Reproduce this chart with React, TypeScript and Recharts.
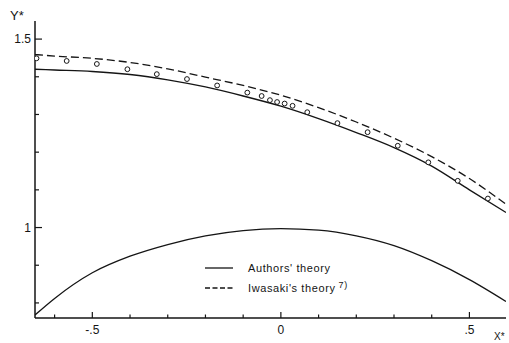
import { ComposedChart, Line, Scatter, XAxis, YAxis, Legend } from 'recharts';

// axis ticks
const xTicks = [-0.6, -0.5, -0.4, -0.3, -0.2, -0.1, 0, 0.1, 0.2, 0.3, 0.4, 0.5];
const xMajor = [-0.5, 0, 0.5];
const xTickLabels = ['-.5', '0', '.5'];
const yTicks = [0.8, 0.9, 1.0, 1.1, 1.2, 1.3, 1.4, 1.5];
const yMajor = [1, 1.5];
const yTickLabels = ['1', '1.5'];

// curves
const curveX = [-0.652, -0.6, -0.5, -0.4, -0.3, -0.2, -0.1, 0, 0.1, 0.2, 0.3, 0.4, 0.5, 0.597];
const authorsUpper = [1.42, 1.418, 1.414, 1.406, 1.392, 1.373, 1.349, 1.322, 1.289, 1.252, 1.212, 1.163, 1.1, 1.04];
const iwasakiUpper = [1.459, 1.455, 1.449, 1.438, 1.421, 1.399, 1.377, 1.351, 1.318, 1.28, 1.237, 1.188, 1.13, 1.062];
const authorsLower = [0.768, 0.812, 0.88, 0.924, 0.955, 0.978, 0.992, 0.997, 0.993, 0.978, 0.952, 0.912, 0.862, 0.804];

// measured points
const pointX = [-0.648, -0.568, -0.488, -0.407, -0.329, -0.249, -0.169, -0.089, -0.051, -0.029, -0.01, 0.01, 0.031, 0.07, 0.15, 0.23, 0.31, 0.391, 0.469, 0.549];
const pointY = [1.449, 1.442, 1.434, 1.42, 1.407, 1.394, 1.377, 1.358, 1.349, 1.338, 1.333, 1.329, 1.323, 1.306, 1.277, 1.253, 1.217, 1.173, 1.124, 1.077];

const upperData = curveX.map((x, i) => ({ x, a: authorsUpper[i], b: iwasakiUpper[i] }));
const lowerData = curveX.map((x, i) => ({ x, a: authorsLower[i] }));
const points = pointX.map((x, i) => ({ x, y: pointY[i] }));

const INK = '#151515';
const FONT = '"Liberation Sans", Arial, sans-serif';

const majorIndex = (list: number[], v: number) => list.findIndex((m) => Math.abs(m - v) < 1e-6);

const BottomTick = (props: any) => {
    const { x, y, payload } = props;
    const k = majorIndex(xMajor, payload.value);
    const base = y - 8;
    return (
        <g>
            <line x1={x} y1={base} x2={x} y2={base - (k >= 0 ? 6 : 3.5)} stroke={INK} strokeWidth={1.2} />
            {k >= 0 && (
                <text x={x} y={y + 8} textAnchor="middle" fontSize={12} fill={INK} fontFamily={FONT}>
                    {xTickLabels[k]}
                </text>
            )}
        </g>
    );
};

const TopTick = (props: any) => {
    const { x, y, payload } = props;
    const k = majorIndex(xMajor, payload.value);
    return <line x1={x} y1={y} x2={x} y2={y + (k >= 0 ? 5 : 3.5)} stroke={INK} strokeWidth={1.2} />;
};

const LeftTick = (props: any) => {
    const { x, y, payload } = props;
    const k = majorIndex(yMajor, payload.value);
    const base = x + 4;
    return (
        <g>
            <line x1={base} y1={y} x2={base + (k >= 0 ? 7 : 4)} y2={y} stroke={INK} strokeWidth={1.2} />
            {k >= 0 && (
                <text x={x} y={y} dy="0.36em" textAnchor="end" fontSize={12} fill={INK} fontFamily={FONT}>
                    {yTickLabels[k]}
                </text>
            )}
        </g>
    );
};

const RightTick = (props: any) => {
    const { x, y } = props;
    return <line x1={x} y1={y} x2={x - 4} y2={y} stroke={INK} strokeWidth={1.2} />;
};

const LegendBox = () => (
    <svg width={180} height={40} style={{ display: 'block' }}>
        <line x1={5} y1={10} x2={33} y2={10} stroke={INK} strokeWidth={1.3} />
        <text x={48} y={14} fontSize={11} fill={INK} fontFamily={FONT} letterSpacing={0.6}>
            Authors' theory
        </text>
        <line x1={5} y1={30} x2={33} y2={30} stroke={INK} strokeWidth={1.3} strokeDasharray="5 2.5" />
        <text x={48} y={34} fontSize={11} fill={INK} fontFamily={FONT} letterSpacing={0.6}>
            Iwasaki's theory
            <tspan dy={-4} fontSize={9}> 7)</tspan>
        </text>
    </svg>
);

const Circle = (props: any) => {
    const { cx, cy } = props;
    return <circle cx={cx} cy={cy} r={2.4} fill="#fff" stroke={INK} strokeWidth={1} />;
};

export default function App() {
    return (
        <div style={{ position: 'absolute', left: 0, top: 0, width: 509, height: 343, background: '#fff', fontFamily: FONT }}>
            <ComposedChart width={509} height={343} margin={{ top: 21, right: 3, left: 0, bottom: 0 }}>
                <XAxis
                    xAxisId="b"
                    type="number"
                    dataKey="x"
                    domain={[-0.652, 0.597]}
                    allowDataOverflow
                    ticks={xTicks}
                    interval={0}
                    height={25}
                    tickSize={0}
                    tickMargin={8}
                    tickLine={false}
                    axisLine={{ stroke: INK, strokeWidth: 1.5 }}
                    tick={<BottomTick />}
                />
                <XAxis
                    xAxisId="t"
                    orientation="top"
                    type="number"
                    dataKey="x"
                    domain={[-0.652, 0.597]}
                    allowDataOverflow
                    ticks={xTicks}
                    interval={0}
                    height={0}
                    tickSize={0}
                    tickMargin={0}
                    tickLine={false}
                    axisLine={{ stroke: INK, strokeWidth: 1.5 }}
                    tick={<TopTick />}
                />
                <YAxis
                    yAxisId="l"
                    type="number"
                    domain={[0.76, 1.548]}
                    allowDataOverflow
                    ticks={yTicks}
                    interval={0}
                    width={35}
                    tickSize={0}
                    tickMargin={4}
                    tickLine={false}
                    axisLine={{ stroke: INK, strokeWidth: 1.5 }}
                    tick={<LeftTick />}
                />
                <YAxis
                    yAxisId="r"
                    orientation="right"
                    type="number"
                    domain={[0.76, 1.548]}
                    allowDataOverflow
                    ticks={yTicks}
                    interval={0}
                    width={0}
                    tickSize={0}
                    tickMargin={0}
                    tickLine={false}
                    axisLine={{ stroke: INK, strokeWidth: 1.5 }}
                    tick={<RightTick />}
                />
                <Line
                    xAxisId="b"
                    yAxisId="l"
                    data={upperData}
                    dataKey="a"
                    type="monotone"
                    stroke={INK}
                    strokeWidth={1.3}
                    dot={false}
                    isAnimationActive={false}
                />
                <Line
                    xAxisId="b"
                    yAxisId="l"
                    data={upperData}
                    dataKey="b"
                    type="monotone"
                    stroke={INK}
                    strokeWidth={1.3}
                    strokeDasharray="8 4"
                    dot={false}
                    isAnimationActive={false}
                />
                <Line
                    xAxisId="b"
                    yAxisId="l"
                    data={lowerData}
                    dataKey="a"
                    type="monotone"
                    stroke={INK}
                    strokeWidth={1.3}
                    dot={false}
                    isAnimationActive={false}
                />
                <Scatter
                    xAxisId="b"
                    yAxisId="l"
                    data={points}
                    dataKey="y"
                    shape={<Circle />}
                    isAnimationActive={false}
                />
                <Legend
                    layout="horizontal"
                    verticalAlign="middle"
                    align="center"
                    content={<LegendBox />}
                    wrapperStyle={{ position: 'absolute', left: 200, top: 258, width: 180, height: 40 }}
                />
            </ComposedChart>
            <div style={{ position: 'absolute', left: 10, top: 9, fontSize: 13, color: INK, lineHeight: 1 }}>
                Y*
            </div>
            <div style={{ position: 'absolute', left: 494, top: 332, fontSize: 10, color: INK, lineHeight: 1 }}>
                X*
            </div>
        </div>
    );
}
